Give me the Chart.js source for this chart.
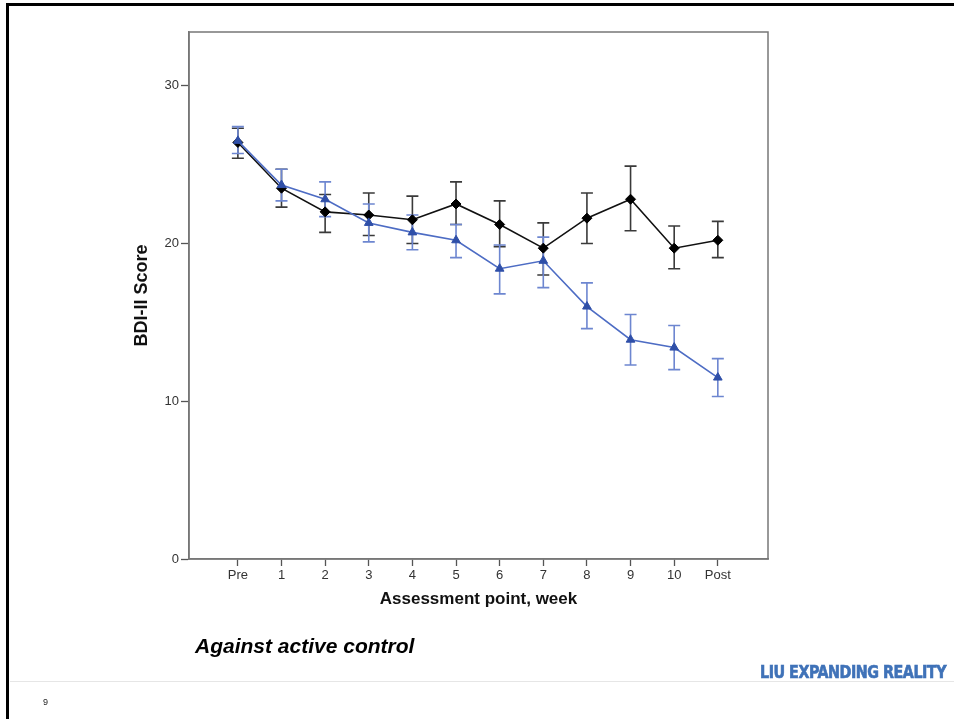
<!DOCTYPE html>
<html>
<head>
<meta charset="utf-8">
<script src="https://cdn.jsdelivr.net/npm/chart.js@4/dist/chart.umd.min.js"></script>
<style>
  html, body { margin: 0; padding: 0; background: #fff; }
  #wrap { position: relative; width: 954px; height: 719px; overflow: hidden; }
  #c { position: absolute; left: 0; top: 0; }
  .bt { position: absolute; left: 6px; top: 3px; width: 960px; height: 3px; background: #000; }
  .bl { position: absolute; left: 6px; top: 3px; width: 3px; height: 720px; background: #000; }
  .hr { position: absolute; left: 10px; top: 681px; width: 944px; height: 1px; background: #e6e6e6; }
  .sub { position: absolute; left: 195px; top: 634px; font: italic bold 21px "Liberation Sans", Arial, sans-serif; color: #000; white-space: nowrap; }
  .pg { position: absolute; left: 43px; top: 697px; font: 9px "Liberation Sans", Arial, sans-serif; color: #222; }
  .logo { position: absolute; left: 760px; top: 662px; font: bold 17px "DejaVu Sans Condensed", "DejaVu Sans", sans-serif; color: #3f72b8; white-space: nowrap; transform-origin: 0 0; letter-spacing: -0.5px; -webkit-text-stroke: 0.6px #3f72b8; }
</style>
</head>
<body>
<div id="wrap">
  <canvas id="c" width="954" height="719"></canvas>
  <div class="bt"></div>
  <div class="bl"></div>
  <div class="hr"></div>
  <div class="sub">Against active control</div>
  <div class="pg">9</div>
  <div class="logo" id="logo">LIU EXPANDING REALITY</div>
</div>
<script>
// ---- data ----
const categories = ['Pre', '1', '2', '3', '4', '5', '6', '7', '8', '9', '10', 'Post'];
const yTickValues = [0, 10, 20, 30];

const controlMean = [26.4, 23.5, 22.0, 21.8, 21.5, 22.5, 21.2, 19.7, 21.6, 22.8, 19.7, 20.2];
const controlLow  = [25.4, 22.3, 20.7, 20.5, 20.0, 21.2, 19.8, 18.0, 20.0, 20.8, 18.4, 19.1];
const controlHigh = [27.3, 24.7, 23.1, 23.2, 23.0, 23.9, 22.7, 21.3, 23.2, 24.9, 21.1, 21.4];

const treatMean = [26.5, 23.7, 22.8, 21.3, 20.7, 20.2, 18.4, 18.9, 16.0, 13.9, 13.4, 11.5];
const treatLow  = [25.7, 22.7, 21.7, 20.1, 19.6, 19.1, 16.8, 17.2, 14.6, 12.3, 12.0, 10.3];
const treatHigh = [27.4, 24.7, 23.9, 22.5, 21.8, 21.2, 19.9, 20.4, 17.5, 15.5, 14.8, 12.7];

const FONT = '"Liberation Sans", Arial, Helvetica, sans-serif';

const toPts = arr => arr.map((v, i) => ({ x: i, y: v }));

const errorBars = {
  id: 'errorBars',
  beforeDatasetsDraw(chart) {
    const ctx = chart.ctx;
    const xs = chart.scales.x, ys = chart.scales.y;
    const sets = [
      { low: controlLow, high: controlHigh, color: '#3a3a3a' },
      { low: treatLow, high: treatHigh, color: '#6d86d0' }
    ];
    ctx.save();
    ctx.lineWidth = 1.6;
    sets.forEach(s => {
      ctx.strokeStyle = s.color;
      s.low.forEach((lo, i) => {
        const px = xs.getPixelForValue(i);
        const pl = ys.getPixelForValue(lo);
        const ph = ys.getPixelForValue(s.high[i]);
        ctx.beginPath();
        ctx.moveTo(px, pl); ctx.lineTo(px, ph);
        ctx.moveTo(px - 6, pl); ctx.lineTo(px + 6, pl);
        ctx.moveTo(px - 6, ph); ctx.lineTo(px + 6, ph);
        ctx.stroke();
      });
    });
    ctx.restore();
  }
};

const frame = {
  id: 'frame',
  afterDraw(chart) {
    const a = chart.chartArea, ctx = chart.ctx;
    ctx.save();
    ctx.strokeStyle = '#777';
    ctx.lineWidth = 1.5;
    ctx.strokeRect(a.left, a.top, a.right - a.left, a.bottom - a.top);
    ctx.restore();
  }
};

new Chart(document.getElementById('c'), {
  type: 'line',
  data: {
    datasets: [
      {
        label: 'Treatment',
        data: toPts(treatMean),
        borderColor: '#4d6cc4',
        backgroundColor: '#2f4fa8',
        borderWidth: 1.6,
        pointStyle: 'triangle',
        pointRadius: 5,
        pointBorderWidth: 1,
        pointBorderColor: '#2f4fa8',
        tension: 0
      },
      {
        label: 'Control',
        data: toPts(controlMean),
        borderColor: '#111',
        backgroundColor: '#000',
        borderWidth: 1.6,
        pointStyle: 'rectRot',
        pointRadius: 5,
        pointBorderWidth: 1,
        pointBorderColor: '#000',
        tension: 0
      }
    ]
  },
  options: {
    responsive: false,
    animation: false,
    events: [],
    layout: { padding: { left: 131, top: 32, right: 186, bottom: 109 } },
    plugins: { legend: { display: false }, tooltip: { enabled: false } },
    scales: {
      x: {
        type: 'linear',
        min: -1.12,
        max: 12.15,
        afterBuildTicks: s => { s.ticks = categories.map((c, i) => ({ value: i })); },
        afterFit: s => { s.height = 51; },
        ticks: {
          callback: (v) => categories[v],
          font: { family: FONT, size: 13 },
          color: '#333',
          padding: 2,
          maxRotation: 0,
          autoSkip: false
        },
        grid: { drawOnChartArea: false, drawTicks: true, tickLength: 7, tickColor: '#555', tickWidth: 1.3 },
        border: { color: '#777', width: 1.5 },
        title: {
          display: true,
          text: 'Assessment point, week',
          font: { family: FONT, size: 17, weight: 'bold' },
          color: '#111',
          padding: { top: 0, bottom: 0 }
        }
      },
      y: {
        min: 0,
        max: 33.4,
        afterBuildTicks: s => { s.ticks = yTickValues.map(v => ({ value: v })); },
        afterFit: s => { s.width = 58; },
        ticks: {
          font: { family: FONT, size: 13 },
          color: '#333',
          padding: 2
        },
        grid: { drawOnChartArea: false, drawTicks: true, tickLength: 8, tickColor: '#555', tickWidth: 1.3 },
        border: { color: '#777', width: 1.5 },
        title: {
          display: true,
          text: 'BDI-II Score',
          font: { family: FONT, size: 18, weight: 'bold' },
          color: '#111',
          padding: { top: 0, bottom: 0 }
        }
      }
    }
  },
  plugins: [errorBars, frame]
});

// fit logo width to the reference width
const logo = document.getElementById('logo');
const w = logo.getBoundingClientRect().width;
logo.style.transform = 'scaleX(' + (186 / w) + ')';
</script>
</body>
</html>
